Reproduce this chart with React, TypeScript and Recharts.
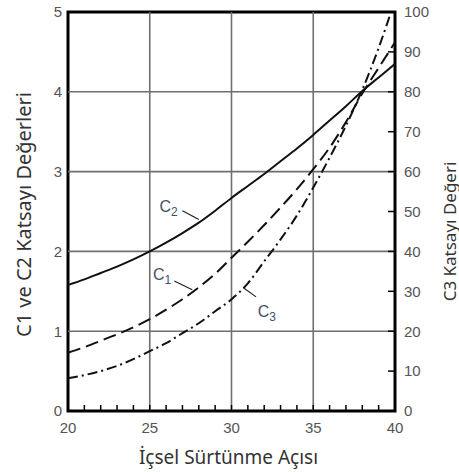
import { LineChart, Line, XAxis, YAxis, ReferenceLine, ReferenceArea, ReferenceDot, Label } from "recharts";

const angles = [20, 21, 22, 23, 24, 25, 26, 27, 28, 29, 30, 31, 32, 33, 34, 35, 36, 37, 38, 39, 40];
const c1Values = [0.73, 0.8, 0.88, 0.96, 1.05, 1.15, 1.27, 1.4, 1.55, 1.72, 1.92, 2.12, 2.33, 2.55, 2.78, 3.03, 3.3, 3.62, 3.98, 4.3, 4.62];
const c2Values = [1.58, 1.65, 1.73, 1.81, 1.9, 2.0, 2.11, 2.23, 2.36, 2.51, 2.67, 2.82, 2.97, 3.13, 3.29, 3.46, 3.64, 3.82, 4.01, 4.18, 4.35];
const c3Values = [8.2, 9, 10, 11.3, 13, 15, 17, 19.5, 22, 25, 28, 32, 37.5, 43, 49, 56, 63.5, 71.5, 80.5, 91, 103];

const xTicks = angles;
const leftTicks = [0, 1, 2, 3, 4, 5];
const rightTicks = [0, 10, 20, 30, 40, 50, 60, 70, 80, 90, 100];
const xGrid = [25, 30, 35];
const yGrid = [1, 2, 3, 4];

// curve labels: text position and leader line (data coords)
const curveLabels = [
    { name: "C", sub: "2", x: 25.6, y: 2.5, axis: "left", from: [27.0, 2.51], to: [28.0, 2.4] },
    { name: "C", sub: "1", x: 25.2, y: 1.64, axis: "left", from: [26.5, 1.63], to: [27.6, 1.52] },
    { name: "C", sub: "3", x: 31.6, y: 23.5, axis: "right", from: [31.5, 28.6], to: [30.75, 30.8] },
];

const data = angles.map((a, i) => ({
    angle: a,
    c1: c1Values[i],
    c2: c2Values[i],
    c3: c3Values[i],
}));

const tickStyle = { fontSize: 15, fill: "#555", fontFamily: "Liberation Sans, Arial, sans-serif" };
const titleFont = "Noto Sans, Open Sans, sans-serif";

function CurveName({ viewBox, name, sub }: any) {
    return (
        <text x={viewBox.x} y={viewBox.y} fill="#44506a" fontSize={16} fontFamily="Liberation Sans, Arial, sans-serif">
            {name}
            <tspan dy={4} fontSize={12}>{sub}</tspan>
        </text>
    );
}

// axis titles placed relative to the axis viewBox
function AxisTitle({ viewBox, value, side }: any) {
    const { x, y, width, height } = viewBox;
    let cx = x + width / 2 - 3;
    let cy = y + 46;
    let rot = 0;
    let size = 19;
    if (side === "left") { cx = x + 23; cy = y + height / 2 + 3; rot = -90; size = 20; }
    if (side === "right") { cx = x + 54; cy = y + height / 2 + 20; rot = -90; size = 17; }
    return (
        <text
            x={cx}
            y={cy}
            textAnchor="middle"
            dominantBaseline="central"
            transform={rot ? `rotate(${rot} ${cx} ${cy})` : undefined}
            fontSize={size}
            fill="#333"
            fontFamily={titleFont}
        >
            {value}
        </text>
    );
}

export default function App() {
    return (
        <div style={{ position: "absolute", left: 0, top: 0, width: 459, height: 472, background: "#fff" }}>
            <LineChart width={459} height={472} data={data} margin={{ top: 12, right: 0, left: 0, bottom: 0 }}>
                <XAxis
                    dataKey="angle"
                    type="number"
                    domain={[20, 40]}
                    ticks={xTicks}
                    interval={0}
                    height={61}
                    axisLine={false}
                    tickSize={-6}
                    tickMargin={17}
                    tickLine={{ stroke: "#000", strokeWidth: 1.5 }}
                    tick={tickStyle}
                    tickFormatter={(v) => (v % 5 === 0 ? String(v) : "")}
                >
                    <Label content={(p: any) => <AxisTitle {...p} value="İçsel Sürtünme Açısı" side="bottom" />} />
                </XAxis>
                <YAxis
                    yAxisId="left"
                    domain={[0, 5]}
                    ticks={leftTicks}
                    interval={0}
                    width={68}
                    axisLine={false}
                    tickLine={false}
                    tickSize={0}
                    tickMargin={6}
                    tick={tickStyle}
                >
                    <Label content={(p: any) => <AxisTitle {...p} value="C1 ve C2 Katsayı Değerleri" side="left" />} />
                </YAxis>
                <YAxis
                    yAxisId="right"
                    orientation="right"
                    domain={[0, 100]}
                    allowDataOverflow
                    ticks={rightTicks}
                    interval={0}
                    width={64}
                    axisLine={false}
                    tickSize={-7}
                    tickMargin={16}
                    tickLine={{ stroke: "#000", strokeWidth: 1.5 }}
                    tick={{ ...tickStyle, textAnchor: "start" }}
                >
                    <Label content={(p: any) => <AxisTitle {...p} value="C3 Katsayı Değeri" side="right" />} />
                </YAxis>

                {xGrid.map((g) => (
                    <ReferenceLine key={"x" + g} x={g} yAxisId="left" stroke="#6f6f6f" strokeWidth={1.6} />
                ))}
                {yGrid.map((g) => (
                    <ReferenceLine key={"y" + g} y={g} yAxisId="left" stroke="#6f6f6f" strokeWidth={1.6} />
                ))}
                <ReferenceArea x1={20} x2={40} y1={0} y2={5} yAxisId="left" fill="none" stroke="#000" strokeWidth={3} />

                <Line yAxisId="left" type="monotone" dataKey="c2" stroke="#111" strokeWidth={2} dot={false} isAnimationActive={false} />
                <Line yAxisId="left" type="monotone" dataKey="c1" stroke="#111" strokeWidth={2} strokeDasharray="13 6" dot={false} isAnimationActive={false} />
                <Line yAxisId="right" type="monotone" dataKey="c3" stroke="#111" strokeWidth={2} strokeDasharray="10 4 2 4" dot={false} isAnimationActive={false} />

                {curveLabels.map((l) => (
                    <ReferenceLine
                        key={"seg" + l.sub}
                        yAxisId={l.axis}
                        segment={[{ x: l.from[0], y: l.from[1] }, { x: l.to[0], y: l.to[1] }]}
                        stroke="#222"
                        strokeWidth={1.2}
                    />
                ))}
                {curveLabels.map((l) => (
                    <ReferenceDot
                        key={"lab" + l.sub}
                        x={l.x}
                        y={l.y}
                        yAxisId={l.axis}
                        r={0}
                        fill="none"
                        stroke="none"
                        label={(p: any) => <CurveName {...p} name={l.name} sub={l.sub} />}
                    />
                ))}
            </LineChart>
        </div>
    );
}
